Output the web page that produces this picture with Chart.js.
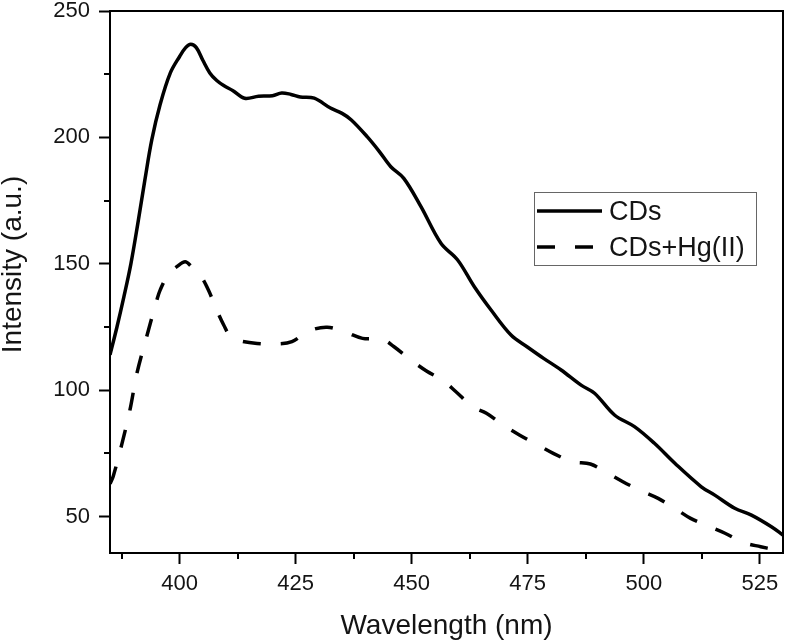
<!DOCTYPE html>
<html>
<head>
<meta charset="utf-8">
<script src="https://cdn.jsdelivr.net/npm/chart.js@4.4.1/dist/chart.umd.min.js"></script>
<style>
html,body{margin:0;padding:0;background:#fff;}
#wrap{width:787px;height:642px;position:relative;}
</style>
</head>
<body>
<div id="wrap"><canvas id="c"></canvas></div>
<script>
// ---- data ----
const seriesLabels = ['CDs', 'CDs+Hg(II)'];
const cdsWavelength = [385,386.5,388,389.5,391,392.5,394,395.8,398,400,401.3,402.4,403.6,405,406.5,408,409.5,411.5,414,417,420,422,424,426,429,432.5,435,437,440.4,443,445.5,448.3,452,456.3,459.9,463.5,467.1,471.4,475,478.5,482.2,486.5,489.4,493.7,498,502.3,506.7,512.4,515.3,519.6,523.2,527.5,530];
const cdsIntensity  = [114,125,137,150,166,183,199,213,225.5,232,235.5,236.8,235.5,230.5,225.5,222.5,220.5,218.5,215.5,216.3,216.5,217.6,217,216,215.5,211.6,209.5,206.9,200.3,194.5,188.4,183.8,172.6,158.1,151.5,140.9,131.7,121.8,117,112.5,108,102,98.8,90.2,85.6,79,71.1,61.8,58.5,53.3,50.6,46,42.7];
const hgWavelength = [385,385.7,387.5,389.3,390.8,392.9,395.1,395.8,397.6,399.4,401.2,402.5,404.4,406.2,408,409.5,411,412.7,416.7,420.6,424.2,427.8,431.8,435.8,439.4,443.7,446.2,449.8,453.1,456.6,459.3,463.1,466.1,469.9,473.2,477.2,480.5,484.7,488.5,492.3,495.5,499.8,503.1,507,510.1,514.2,517.5,521.6,525.2,528,530];
const hgIntensity  = [63,66,78.3,92.2,106.7,121.2,135.7,139.6,146,148.9,150.8,149,145.6,139.6,131.7,125.8,121,119.6,118.5,118.3,119.2,123.4,124.9,122.9,120.5,120.1,117.2,112,107.7,104,99.8,93.5,90.9,86,82.3,78.3,75,71.7,70.8,67.1,63.8,59.9,57.2,52.9,49.3,46,43.4,39.7,38.1,37,36.5];
const xRange = [385, 530];
const yRange = [35.6, 250];
const xMajorStep = 25;
const yMajorStep = 50;
const xTitle = 'Wavelength (nm)';
const yTitle = 'Intensity (a.u.)';

const toPoints = (xs, ys) => xs.map((x, i) => ({x: x, y: ys[i]}));

const FONT = '"Liberation Sans", Arial, Helvetica, sans-serif';
const TEXT = '#141414';
const DASH = [18, 20];

const framePlugin = {
  id: 'frame',
  afterDatasetsDraw(chart) {
    const {ctx, chartArea: ca, scales} = chart;
    ctx.save();
    ctx.strokeStyle = '#000';
    ctx.lineWidth = 2;
    ctx.beginPath();
    for (let v = xRange[0]; v <= xRange[1]; v += 0.5) {
      if (Math.abs((v - 12.5) % 25) < 1e-6) {
        const px = Math.round(scales.x.getPixelForValue(v));
        ctx.moveTo(px, ca.bottom);
        ctx.lineTo(px, ca.bottom + 6);
      }
    }
    for (let v = 75; v < yRange[1]; v += 50) {
      const py = Math.round(scales.y.getPixelForValue(v));
      ctx.moveTo(ca.left, py);
      ctx.lineTo(ca.left - 6, py);
    }
    ctx.stroke();
    ctx.strokeRect(ca.left, ca.top, ca.right - ca.left, ca.bottom - ca.top);
    ctx.restore();
  },
  afterDraw(chart) {
    const {ctx, chartArea: ca} = chart;
    ctx.save();
    // axis titles
    ctx.fillStyle = TEXT;
    ctx.font = '28px ' + FONT;
    ctx.textAlign = 'center';
    ctx.textBaseline = 'alphabetic';
    ctx.fillText(xTitle, (ca.left + ca.right) / 2, ca.bottom + 81);
    ctx.save();
    ctx.translate(13, ca.top + 253.5);
    ctx.rotate(-Math.PI / 2);
    ctx.textBaseline = 'middle';
    ctx.fillText(yTitle, 0, 0);
    ctx.restore();
    // legend
    const bx = ca.left + 424, by = ca.top + 181, bw = 222, bh = 73;
    ctx.fillStyle = '#fff';
    ctx.fillRect(bx, by, bw, bh);
    ctx.strokeStyle = '#666';
    ctx.lineWidth = 1;
    ctx.strokeRect(bx + 0.5, by + 0.5, bw, bh);
    const ds = chart.data.datasets;
    const rows = [by + 19, by + 55];
    ds.forEach((d, i) => {
      ctx.strokeStyle = d.borderColor;
      ctx.lineWidth = d.borderWidth;
      ctx.setLineDash(d.borderDash || []);
      ctx.beginPath();
      ctx.moveTo(bx + 3, rows[i]);
      ctx.lineTo(bx + 68, rows[i]);
      ctx.stroke();
      ctx.setLineDash([]);
      ctx.fillStyle = TEXT;
      ctx.font = '27px ' + FONT;
      ctx.textBaseline = 'alphabetic';
      ctx.textAlign = 'left';
      ctx.fillText(d.label, bx + 75, rows[i] + 9);
    });
    ctx.restore();
  }
};

new Chart(document.getElementById('c'), {
  type: 'line',
  data: {
    datasets: [
      {label: seriesLabels[0], data: toPoints(cdsWavelength, cdsIntensity), borderColor: '#000', borderWidth: 3.5, pointRadius: 0, tension: 0.35, fill: false},
      {label: seriesLabels[1], data: toPoints(hgWavelength, hgIntensity), borderColor: '#000', borderWidth: 3.5, borderDash: DASH, pointRadius: 0, tension: 0.35, fill: false}
    ]
  },
  options: {
    responsive: true,
    maintainAspectRatio: false,
    animation: false,
    layout: {padding: {left: 0, top: 11, right: 4, bottom: 0}},
    plugins: {legend: {display: false}, tooltip: {enabled: false}},
    scales: {
      x: {
        type: 'linear',
        min: xRange[0], max: xRange[1],
        afterFit(s) { s.height = 89; s.paddingLeft = 0; s.paddingRight = 0; },
        border: {display: false},
        grid: {drawOnChartArea: false, drawTicks: true, tickLength: 11, tickWidth: 2, tickColor: '#000'},
        ticks: {stepSize: xMajorStep, includeBounds: false, padding: 7, color: TEXT, font: {family: FONT, size: 22, lineHeight: 1.2}, maxRotation: 0},
        title: {display: false}
      },
      y: {
        type: 'linear',
        min: yRange[0], max: yRange[1],
        afterFit(s) { s.width = 110; s.paddingTop = 0; s.paddingBottom = 0; },
        border: {display: false},
        grid: {drawOnChartArea: false, drawTicks: true, tickLength: 11, tickWidth: 2, tickColor: '#000'},
        ticks: {stepSize: yMajorStep, includeBounds: false, padding: 9, color: TEXT, font: {family: FONT, size: 22, lineHeight: 1.2}},
        title: {display: false}
      }
    }
  },
  plugins: [framePlugin]
});
</script>
</body>
</html>
